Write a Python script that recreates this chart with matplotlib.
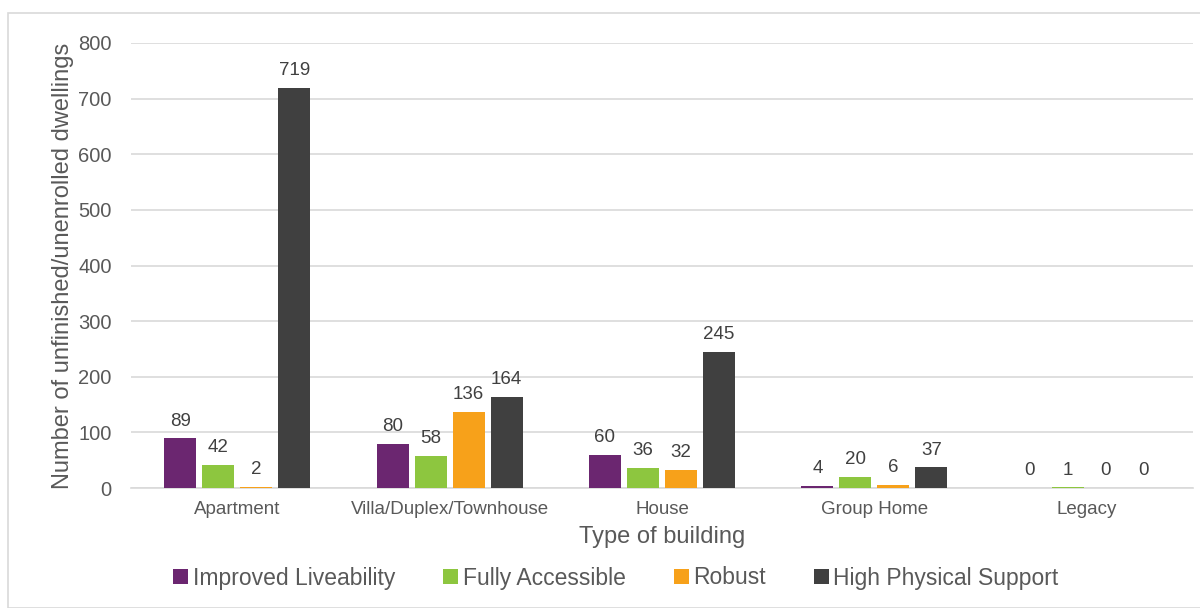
import numpy as np
import matplotlib.pyplot as plt
from matplotlib.patches import Rectangle

plt.rcParams['font.family'] = ['Liberation Sans', 'DejaVu Sans']

categories = ['Apartment', 'Villa/Duplex/Townhouse', 'House', 'Group Home', 'Legacy']
series_names = ['Improved Liveability', 'Fully Accessible', 'Robust', 'High Physical Support']
improved = [89, 80, 60, 4, 0]
accessible = [42, 58, 36, 20, 1]
robust = [2, 136, 32, 6, 0]
high_support = [719, 164, 245, 37, 0]
colors = ['#6B2670', '#8DC63F', '#F7A11A', '#404040']

series = [improved, accessible, robust, high_support]
text_col = '#595959'

fig = plt.figure(figsize=(12, 6.08), dpi=100)
fig.patches.append(Rectangle((8 / 1200, 0), 1.2, 1 - 13 / 608, transform=fig.transFigure,
                             fill=False, edgecolor='#D9D9D9', linewidth=1.2))
ax = fig.add_axes([131 / 1200, 1 - 488 / 608, (1193 - 131) / 1200, 445 / 608])

x = np.arange(len(categories))
step = 0.179
width = 0.151
for i, (name, vals) in enumerate(zip(series_names, series)):
    pos = x + (i - 1.5) * step
    bars = ax.bar(pos, vals, width, color=colors[i], label=name, zorder=3)
    for xp, v in zip(pos, vals):
        ax.text(xp, v + 16, str(v), ha='center', va='bottom', fontsize=13.5, color='#404040')

ax.set_xlim(-0.5, len(categories) - 0.5)
ax.set_ylim(0, 800)
ax.set_yticks(range(0, 801, 100))
ax.set_xticks(x)
ax.set_xticklabels(categories, fontsize=13.5, color=text_col)
ax.tick_params(axis='y', labelsize=14.5, labelcolor=text_col, length=0, pad=14)
ax.tick_params(axis='x', length=0, pad=9)
ax.grid(axis='y', color='#D9D9D9', linewidth=1.2, zorder=0)
for s in ['top', 'right', 'left']:
    ax.spines[s].set_visible(False)
ax.spines['bottom'].set_color('#D9D9D9')
ax.spines['bottom'].set_linewidth(1.2)

ax.set_ylabel('Number of unfinished/unenrolled dwellings', fontsize=17, color=text_col, labelpad=3)
ax.set_xlabel('Type of building', fontsize=17, color=text_col, labelpad=6)

fig.legend(loc='center', bbox_to_anchor=(616 / 1200, 1 - 578 / 608), ncol=4, frameon=False,
           fontsize=16.5, labelcolor=text_col, handlelength=0.65, handleheight=0.65,
           handletextpad=0.2, columnspacing=2.1)

fig.savefig('out.png', dpi=100)
